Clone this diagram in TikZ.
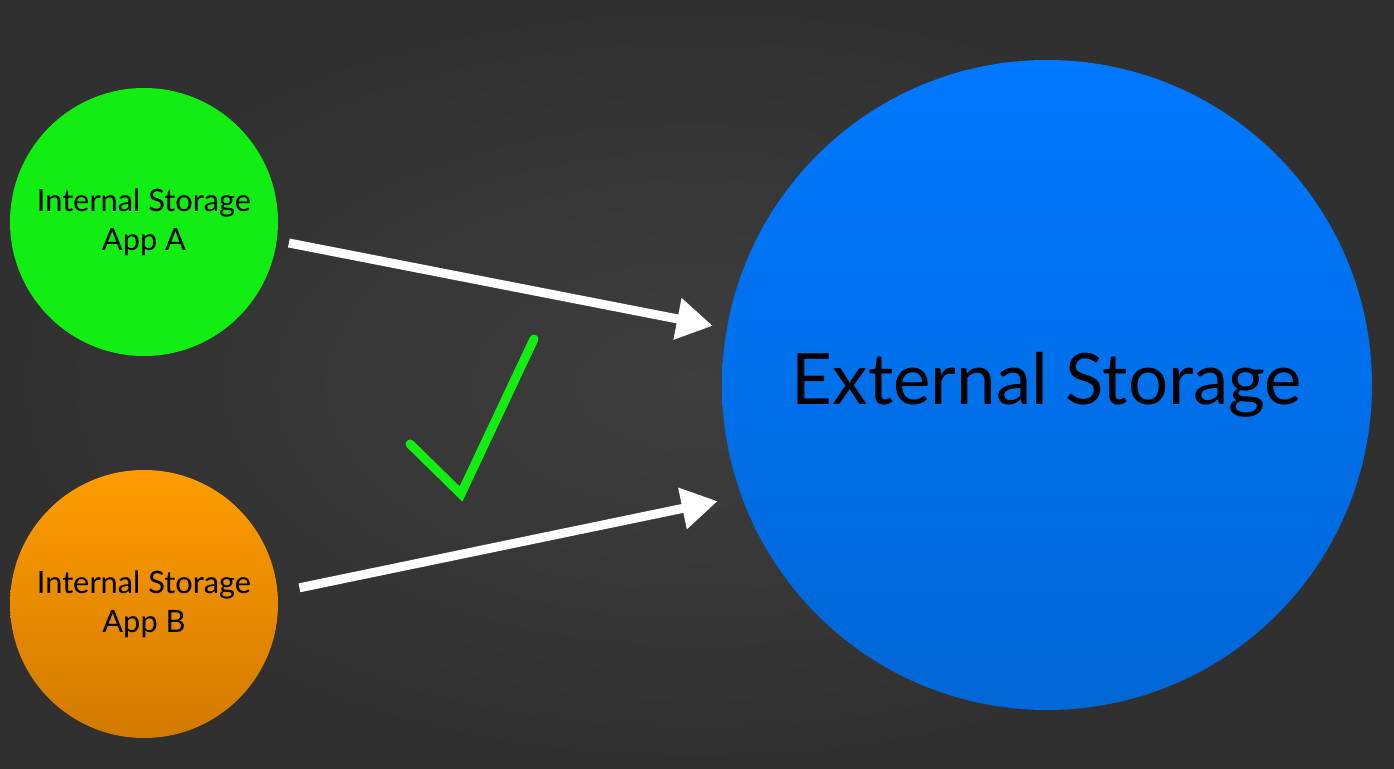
\documentclass[tikz,border=0pt]{standalone}
\usepackage{fontspec}
\setmainfont{Lato}
\usepackage{xcolor}
\usetikzlibrary{arrows.meta}
\usetikzlibrary{shapes.geometric}

\definecolor{bgdark}{HTML}{303030}
\definecolor{bglight}{HTML}{3E3E3E}
\definecolor{appgreen}{HTML}{12EE12}
\definecolor{apporange}{HTML}{FF9C00}
\definecolor{apporangedk}{HTML}{D27A00}
\definecolor{extblue}{HTML}{0078FF}
\definecolor{extbluedk}{HTML}{0067D6}

\tikzset{
  ball/.style={circle, inner sep=0pt, text=black, align=center},
  smallball/.style={ball, minimum size=134pt, font=\fontsize{15.4}{19.5}\selectfont},
  flow/.style={white, line width=4.5pt, -{Triangle[length=18pt 0, width=20pt 0]}},
}

\begin{document}
\begin{tikzpicture}[x=0.5pt, y=-0.5pt]
    \useasboundingbox (0, 0) rectangle (1394, 769);
    \shade [inner color=bglight, outer color=bgdark] (0, 0) rectangle (1394, 769);

    \path (144, 222) node [smallball, fill=appgreen] (ia) {Internal Storage\\App A};
    \path (144, 604) node [smallball, top color=apporange, bottom color=apporangedk] (ib) {Internal Storage\\App B};
    \path (1047, 385) node [ball, minimum size=325pt, top color=extblue, bottom color=extbluedk,
	font=\fontsize{35.4}{42}\selectfont] (es) {External Storage};

    \draw [flow, shorten <=6pt, shorten >=7pt] (ia.-8) -- (es.170);
    \draw [flow, shorten <=11pt, shorten >=12pt] (ib.5) -- (es.200);

    \draw [appgreen, line width=4.5pt, line cap=round, miter limit=10]
	(410, 444) -- (461, 494) -- (534, 339);
\end{tikzpicture}
\end{document}
